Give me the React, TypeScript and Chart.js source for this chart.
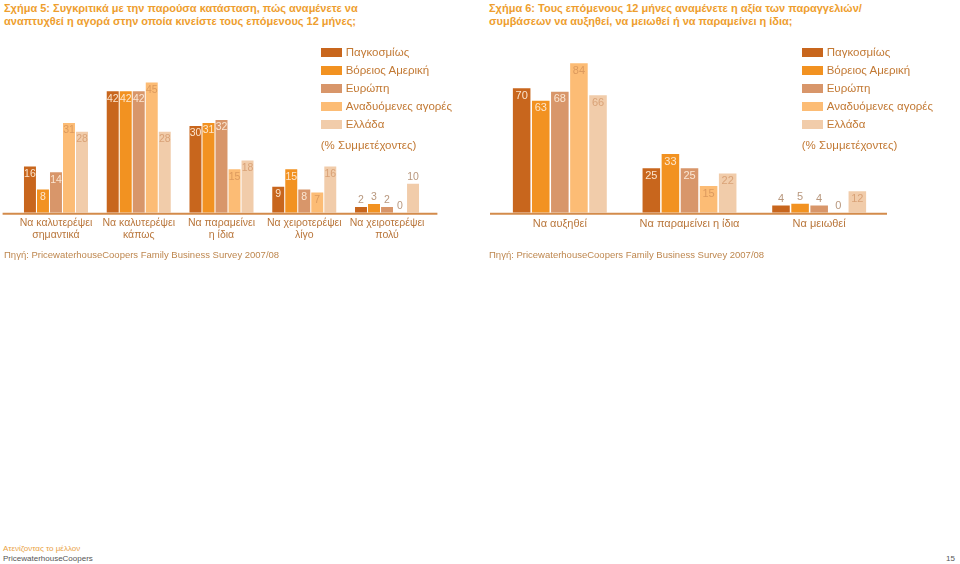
import React, { useEffect, useRef } from "react";
import { Chart, registerables } from "chart.js";

Chart.register(...registerables);

const FONT = '"Liberation Sans", Arial, Helvetica, sans-serif';

const seriesNames = ["Παγκοσμίως", "Βόρειος Αμερική", "Ευρώπη", "Αναδυόμενες αγορές", "Ελλάδα"];
const seriesColors = ["#C8661D", "#F29221", "#D8966A", "#FCBC75", "#F1CCAA"];
const insideLabelColors = ["#FBE4CC", "#FDE6CC", "#FBE6D2", "#DC9A5E", "#D9A277"];

const fig5Categories = [
  ["Να καλυτερέψει", "σημαντικά"],
  ["Να καλυτερέψει", "κάπως"],
  ["Να παραμείνει", "η ίδια"],
  ["Να χειροτερέψει", "λίγο"],
  ["Να χειροτερέψει", "πολύ"],
];
const fig5Global = [16, 42, 30, 9, 2];
const fig5NorthAmerica = [8, 42, 31, 15, 3];
const fig5Europe = [14, 42, 32, 8, 2];
const fig5Emerging = [31, 45, 15, 7, 0];
const fig5Greece = [28, 28, 18, 16, 10];

const fig6Categories = ["Να αυξηθεί", "Να παραμείνει η ίδια", "Να μειωθεί"];
const fig6Global = [70, 25, 4];
const fig6NorthAmerica = [63, 33, 5];
const fig6Europe = [68, 25, 4];
const fig6Emerging = [84, 15, 0];
const fig6Greece = [66, 22, 12];

const valueLabelsPlugin = {
  id: "valueLabels",
  afterDatasetsDraw(chart: any, _args: any, opts: any) {
    const ctx = chart.ctx;
    ctx.save();
    ctx.font = `${opts.size}px ${FONT}`;
    ctx.textAlign = "center";
    ctx.textBaseline = "middle";
    chart.data.datasets.forEach((ds: any, di: number) => {
      const meta = chart.getDatasetMeta(di);
      meta.data.forEach((bar: any, i: number) => {
        const v = ds.data[i];
        if (opts.above(v, i)) {
          ctx.fillStyle = opts.aboveColor;
          ctx.fillText(String(v), bar.x, bar.y - opts.aboveOffset);
        } else {
          ctx.fillStyle = insideLabelColors[di];
          ctx.fillText(String(v), bar.x, bar.y + opts.insideOffset);
        }
      });
    });
    ctx.restore();
  },
};

const baselinePlugin = {
  id: "baseline",
  afterDatasetsDraw(chart: any, _args: any, opts: any) {
    const { ctx, chartArea } = chart;
    ctx.save();
    ctx.strokeStyle = opts.color;
    ctx.lineWidth = 2;
    ctx.beginPath();
    ctx.moveTo(chartArea.left - opts.extLeft, chartArea.bottom + 1);
    ctx.lineTo(chartArea.right + opts.extRight, chartArea.bottom + 1);
    ctx.stroke();
    ctx.restore();
  },
};

type BarChartProps = {
  labels: any[];
  series: number[][];
  yMax: number;
  padLeft: number;
  padRight: number;
  padTop: number;
  axisHeight: number;
  catPct: number;
  tickPadding: number;
  tickSize: number;
  labelSize: number;
  above: (v: number, i: number) => boolean;
  extLeft: number;
  extRight: number;
};

function BarChart(p: BarChartProps) {
  const ref = useRef<HTMLCanvasElement | null>(null);
  useEffect(() => {
    if (!ref.current) return;
    const chart = new Chart(ref.current, {
      type: "bar",
      data: {
        labels: p.labels,
        datasets: p.series.map((d, i) => ({
          label: seriesNames[i],
          data: d,
          backgroundColor: seriesColors[i],
          borderWidth: 0,
          categoryPercentage: p.catPct,
          barPercentage: 0.92,
        })),
      },
      options: {
        responsive: false,
        animation: false,
        layout: { padding: { left: p.padLeft, right: p.padRight, top: p.padTop, bottom: 0 } },
        plugins: {
          legend: { display: false },
          tooltip: { enabled: false },
          valueLabels: {
            size: p.labelSize,
            above: p.above,
            aboveColor: "#B8977D",
            aboveOffset: 6.5,
            insideOffset: 7.5,
          },
          baseline: { color: "#D38B4B", extLeft: p.extLeft, extRight: p.extRight },
        } as any,
        scales: {
          x: {
            grid: { display: false, drawTicks: false },
            border: { display: false },
            ticks: {
              color: "#B9763B",
              font: { family: FONT, size: p.tickSize, lineHeight: 1.1 },
              padding: p.tickPadding,
              maxRotation: 0,
              autoSkip: false,
            },
            afterFit: (scale: any) => {
              scale.height = p.axisHeight;
            },
          },
          y: {
            display: false,
            min: 0,
            max: p.yMax,
          },
        },
      },
      plugins: [valueLabelsPlugin, baselinePlugin],
    });
    return () => chart.destroy();
  }, []);
  return <canvas ref={ref} width={480} height={220} style={{ width: 480, height: 220, display: "block" }} />;
}

function Legend({ left }: { left: number }) {
  return (
    <div style={{ position: "absolute", left, top: 43, fontFamily: FONT, fontSize: 11.5, color: "#C27934" }}>
      {seriesNames.map((n, i) => (
        <div key={n} style={{ position: "relative", height: 18, lineHeight: "18px" }}>
          <span
            style={{
              position: "absolute",
              left: 0,
              top: 4.5,
              width: 21,
              height: 9.5,
              background: seriesColors[i],
            }}
          />
          <span style={{ position: "absolute", left: 25, top: 0, whiteSpace: "nowrap" }}>{n}</span>
        </div>
      ))}
      <div style={{ position: "absolute", left: 0, top: 96, whiteSpace: "nowrap" }}>(% Συμμετέχοντες)</div>
    </div>
  );
}

const titleStyle: React.CSSProperties = {
  position: "absolute",
  top: 2,
  fontFamily: FONT,
  fontWeight: "bold",
  fontSize: 11,
  lineHeight: "12.5px",
  color: "#EE9E2E",
  whiteSpace: "nowrap",
};

const sourceStyle: React.CSSProperties = {
  position: "absolute",
  top: 249,
  fontFamily: FONT,
  fontSize: 9.5,
  lineHeight: "12px",
  color: "#BE874F",
  whiteSpace: "nowrap",
};

export default function App() {
  return (
    <div style={{ position: "absolute", left: 0, top: 0, width: 960, height: 564, background: "#fff", overflow: "hidden" }}>
      <div style={{ ...titleStyle, left: 4 }}>
        Σχήμα 5: Συγκριτικά με την παρούσα κατάσταση, πώς αναμένετε να
        <br />
        αναπτυχθεί η αγορά στην οποία κινείστε τους επόμενους 12 μήνες;
      </div>
      <div style={{ ...titleStyle, left: 489 }}>
        Σχήμα 6: Τους επόμενους 12 μήνες αναμένετε η αξία των παραγγελιών/
        <br />
        συμβάσεων να αυξηθεί, να μειωθεί ή να παραμείνει η ίδια;
      </div>

      <div style={{ position: "absolute", left: 0, top: 40 }}>
        <BarChart
          labels={fig5Categories}
          series={[fig5Global, fig5NorthAmerica, fig5Europe, fig5Emerging, fig5Greece]}
          yMax={50}
          padLeft={14.6}
          padRight={51.6}
          padTop={28}
          axisHeight={47.3}
          catPct={0.786}
          tickPadding={5}
          tickSize={10.5}
          labelSize={10.5}
          above={(_v, i) => i === 4}
          extLeft={12}
          extRight={9}
        />
      </div>
      <div style={{ position: "absolute", left: 480, top: 40 }}>
        <BarChart
          labels={fig6Categories}
          series={[fig6Global, fig6NorthAmerica, fig6Europe, fig6Emerging, fig6Greece]}
          yMax={90}
          padLeft={15}
          padRight={76}
          padTop={12.7}
          axisHeight={47.3}
          catPct={0.736}
          tickPadding={5}
          tickSize={11}
          labelSize={11}
          above={(v) => v < 10}
          extLeft={5}
          extRight={3}
        />
      </div>

      <Legend left={320.7} />
      <Legend left={801.7} />

      <div style={{ ...sourceStyle, left: 4 }}>Πηγή: PricewaterhouseCoopers Family Business Survey 2007/08</div>
      <div style={{ ...sourceStyle, left: 489 }}>Πηγή: PricewaterhouseCoopers Family Business Survey 2007/08</div>

      <div style={{ position: "absolute", left: 3, top: 544, fontFamily: FONT, fontSize: 8, lineHeight: "10px", whiteSpace: "nowrap" }}>
        <div style={{ color: "#E9A23F" }}>Ατενίζοντας το μέλλον</div>
        <div style={{ color: "#555555" }}>PricewaterhouseCoopers</div>
      </div>
      <div style={{ position: "absolute", right: 5, top: 554, fontFamily: FONT, fontSize: 8, lineHeight: "10px", color: "#555555" }}>15</div>
    </div>
  );
}
